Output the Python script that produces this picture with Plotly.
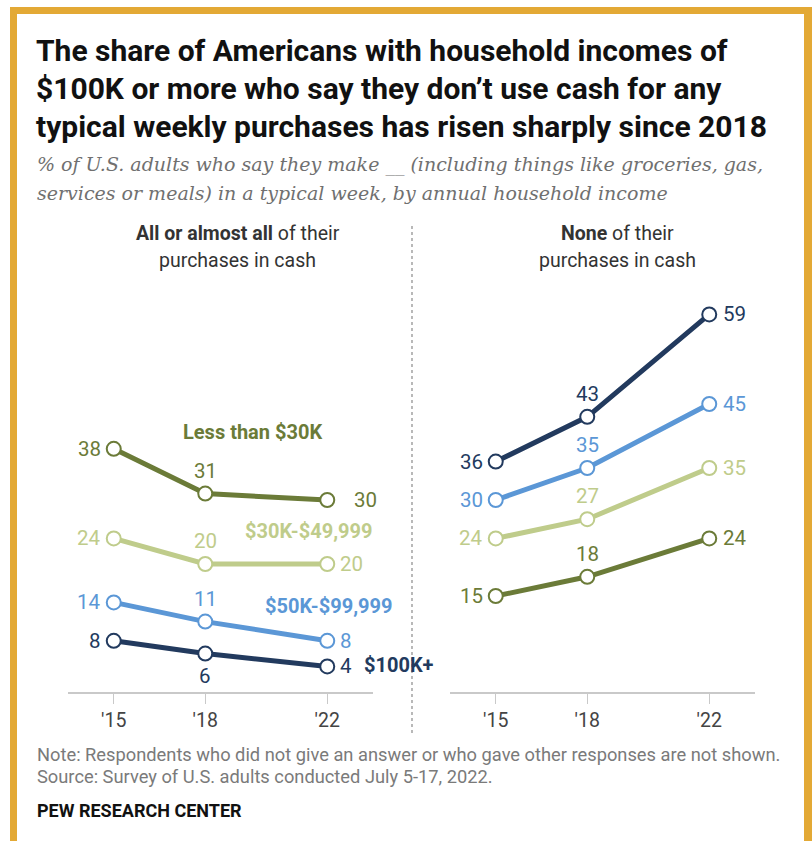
import plotly.graph_objects as go

W, H = 812, 841

years = [2015, 2018, 2022]
tick_labels = ["'15", "'18", "'22"]

groups = ["Less than $30K", "$30K-$49,999", "$50K-$99,999", "$100K+"]
all_cash = {
    "Less than $30K": [38, 31, 30],
    "$30K-$49,999": [24, 20, 20],
    "$50K-$99,999": [14, 11, 8],
    "$100K+": [8, 6, 4],
}
no_cash = {
    "Less than $30K": [15, 18, 24],
    "$30K-$49,999": [24, 27, 35],
    "$50K-$99,999": [30, 35, 45],
    "$100K+": [36, 43, 59],
}
colors = {
    "Less than $30K": "#6b7b38",
    "$30K-$49,999": "#bfcc8b",
    "$50K-$99,999": "#5b97d6",
    "$100K+": "#223a5e",
}

def px(x):
    return x / W

def py(y):
    return 1 - y / H

fig = go.Figure()

for g in groups:
    for vals, xa, ya in [(all_cash[g], "x", "y"), (no_cash[g], "x2", "y2")]:
        fig.add_trace(go.Scatter(
            x=years, y=vals, xaxis=xa, yaxis=ya, mode="lines+markers",
            line=dict(color=colors[g], width=5),
            marker=dict(symbol="circle", size=14, color="white",
                        line=dict(color=colors[g], width=2)),
            showlegend=False, hoverinfo="skip", cliponaxis=False,
        ))

ann = []
LBL = dict(family="Roboto", size=20.5)

def data_labels(vals, xa, ya, color, mid_pos="above", right_shift=12):
    f = dict(LBL, color=color)
    ann.append(dict(x=years[0], y=vals[0], xref=xa, yref=ya, text=str(vals[0]),
                    xanchor="right", yanchor="middle", xshift=-11, showarrow=False, font=f))
    if mid_pos == "above":
        ann.append(dict(x=years[1], y=vals[1], xref=xa, yref=ya, text=str(vals[1]),
                        xanchor="center", yanchor="bottom", yshift=9, showarrow=False, font=f))
    else:
        ann.append(dict(x=years[1], y=vals[1], xref=xa, yref=ya, text=str(vals[1]),
                        xanchor="center", yanchor="top", yshift=-8, showarrow=False, font=f))
    ann.append(dict(x=years[2], y=vals[2], xref=xa, yref=ya, text=str(vals[2]),
                    xanchor="left", yanchor="middle", xshift=right_shift, showarrow=False, font=f))

for g in groups:
    data_labels(all_cash[g], "x", "y", colors[g],
                mid_pos="below" if g == "$100K+" else "above",
                right_shift=25 if g == "Less than $30K" else 11)
    data_labels(no_cash[g], "x2", "y2", colors[g])

# series name labels (left panel)
NF = dict(family="Roboto", size=20, weight="bold")
ann += [
    dict(x=px(253), y=py(432), text="Less than $30K", font=dict(NF, color=colors["Less than $30K"])),
    dict(x=px(309), y=py(531), text="$30K-$49,999", font=dict(NF, color=colors["$30K-$49,999"])),
    dict(x=px(329), y=py(606), text="$50K-$99,999", font=dict(NF, color=colors["$50K-$99,999"])),
    dict(x=px(362), y=py(665), text="$100K+", xanchor="left", font=dict(NF, color=colors["$100K+"])),
]

# title
TF = dict(family="Roboto", size=30, weight="bold", color="#111111")
for i, line in enumerate([
    "The share of Americans with household incomes of",
    "$100K or more who say they don\u2019t use cash for any",
    "typical weekly purchases has risen sharply since 2018",
]):
    ann.append(dict(x=px(34), y=py(50 + 38 * i), text=line, xanchor="left", font=TF))

SF = dict(family="DejaVu Serif", size=19, style="italic", color="#707070")
for i, line in enumerate([
    "% of U.S. adults who say they make __ (including things like groceries, gas,",
    "services or meals) in a typical week, by annual household income",
]):
    ann.append(dict(x=px(35), y=py(164 + 29 * i), text=line, xanchor="left", font=SF))

HF = dict(family="Roboto", size=19.5, color="#333333")
ann += [
    dict(x=px(238), y=py(234), text="<b>All or almost all</b> of their", font=HF),
    dict(x=px(238), y=py(261), text="purchases in cash", font=HF),
    dict(x=px(617), y=py(234), text="<b>None</b> of their", font=HF),
    dict(x=px(617), y=py(261), text="purchases in cash", font=HF),
]

NOTEF = dict(family="Roboto", size=18.3, color="#7a7a7a")
ann += [
    dict(x=px(35), y=py(754), text="Note: Respondents who did not give an answer or who gave other responses are not shown.",
         xanchor="left", font=NOTEF),
    dict(x=px(35), y=py(776), text="Source: Survey of U.S. adults conducted July 5-17, 2022.",
         xanchor="left", font=NOTEF),
    dict(x=px(35), y=py(810), text="PEW RESEARCH CENTER", xanchor="left",
         font=dict(family="Roboto", size=18, weight="bold", color="#111111")),
]

for a in ann:
    a.setdefault("showarrow", False)
    a.setdefault("xref", "paper")
    a.setdefault("yref", "paper")
    a.setdefault("xanchor", "center")
    a.setdefault("yanchor", "middle")

gold = "#e3a935"
shapes = [
    dict(type="rect", xref="paper", yref="paper", x0=px(10), x1=px(17), y0=0, y1=py(7),
         fillcolor=gold, line=dict(width=0), layer="above"),
    dict(type="rect", xref="paper", yref="paper", x0=px(10), x1=1, y0=py(14), y1=py(7),
         fillcolor=gold, line=dict(width=0), layer="above"),
    dict(type="rect", xref="paper", yref="paper", x0=px(804), x1=1, y0=0, y1=py(7),
         fillcolor=gold, line=dict(width=0), layer="above"),
    dict(type="line", xref="paper", yref="paper", x0=px(412), x1=px(412), y0=py(226), y1=py(735),
         line=dict(color="#8a8a8a", width=1.2, dash="dot")),
]

YMAX = 62
ybot, ytop = py(692), py(692 - YMAX * 6.4)
xaxis_common = dict(range=[2013.5, 2023.5], tickvals=years, ticktext=tick_labels,
                    showline=True, linecolor="#c9c9c9", linewidth=1.5,
                    ticks="outside", ticklen=10, tickcolor="#c9c9c9", tickwidth=1.2,
                    showgrid=False, zeroline=False, fixedrange=True,
                    tickfont=dict(family="Roboto", size=19.5, color="#444444"))
yaxis_common = dict(range=[0, YMAX], visible=False, showgrid=False, zeroline=False,
                    domain=[ybot, ytop], fixedrange=True)

fig.update_layout(
    width=W, height=H, margin=dict(l=0, r=0, t=0, b=0),
    paper_bgcolor="white", plot_bgcolor="white",
    xaxis=dict(xaxis_common, domain=[px(68), px(373)], anchor="y"),
    yaxis=dict(yaxis_common, anchor="x"),
    xaxis2=dict(xaxis_common, domain=[px(450), px(755)], anchor="y2"),
    yaxis2=dict(yaxis_common, anchor="x2"),
    annotations=ann, shapes=shapes,
)

fig.write_html("out.html")
